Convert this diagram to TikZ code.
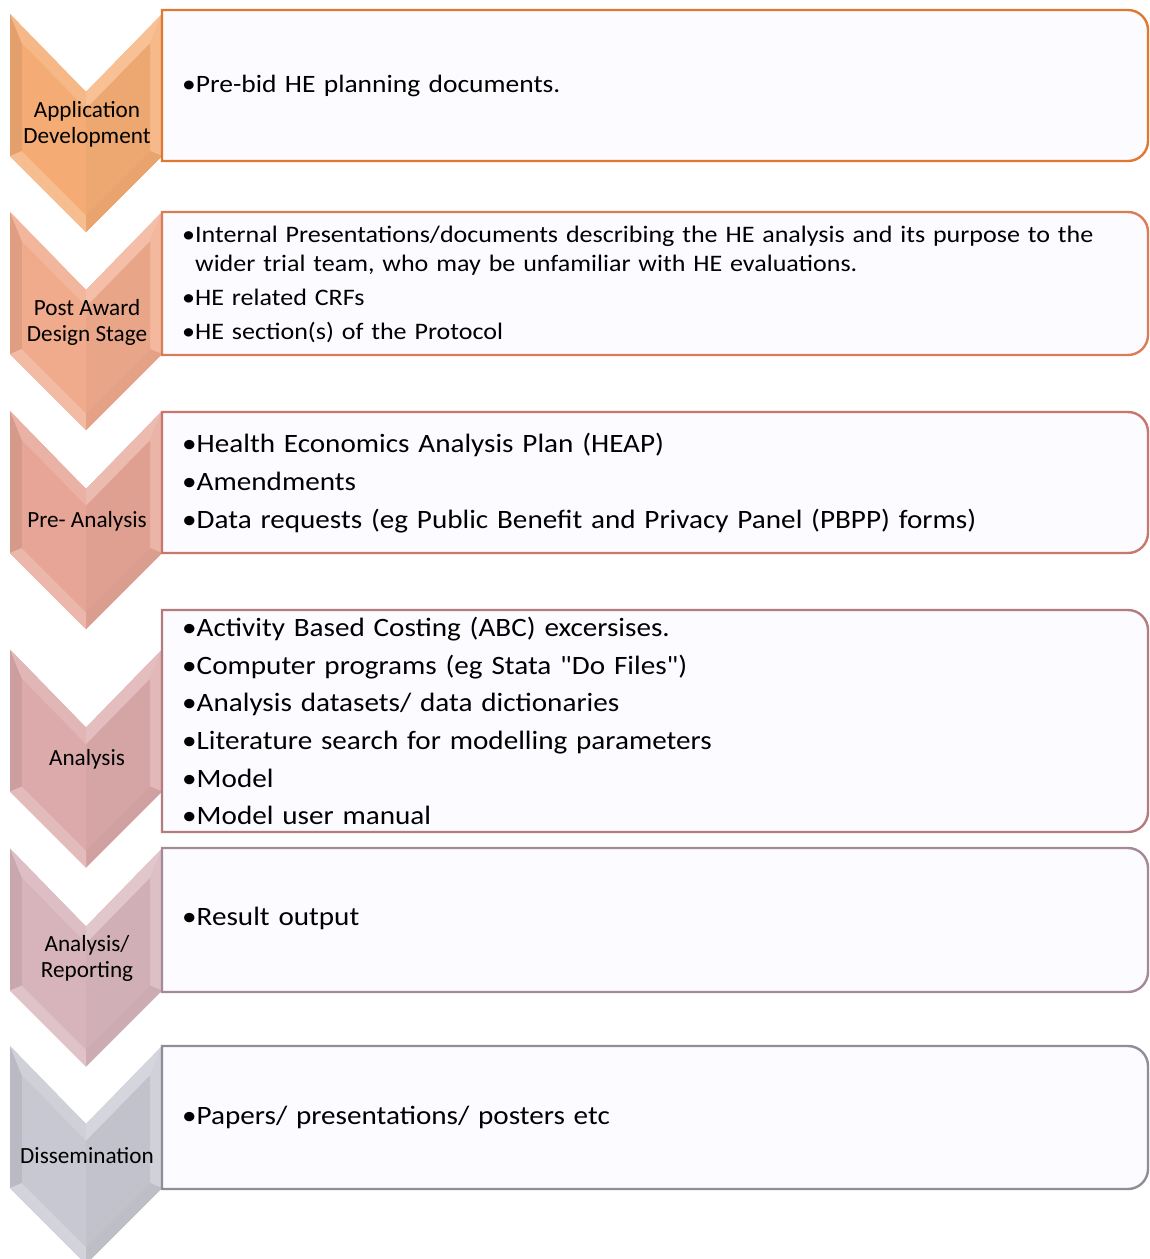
\documentclass[tikz,border=0pt]{standalone}
\usepackage{fontspec}
\setmainfont{Carlito}[FakeStretch=1.1]
\newfontfamily\labfont{Carlito}
\definecolor{cA}{HTML}{F4AC74}
\definecolor{cB}{HTML}{F0AA8C}
\definecolor{cC}{HTML}{E6A596}
\definecolor{cD}{HTML}{DCAAAA}
\definecolor{cE}{HTML}{D7B4BC}
\definecolor{cF}{HTML}{C8C8D2}
\definecolor{fA}{HTML}{E0782F}
\definecolor{fB}{HTML}{DA7C55}
\definecolor{fC}{HTML}{C8776A}
\definecolor{fD}{HTML}{B47C7C}
\definecolor{fE}{HTML}{A38A94}
\definecolor{fF}{HTML}{8E8E96}
\definecolor{boxfill}{HTML}{FCFBFF}
\tikzset{
  chevlabel/.style={align=center, inner sep=0pt, font=\labfont\fontsize{23.2}{26}\selectfont},
  boxtext/.style={align=left, anchor=west, inner sep=0pt, text width=960pt},
  frame/.style={line width=2.4pt, fill=boxfill}
}
% #1 name, #2 top y, #3 colour, #4 label
\newcommand\mychevshape[4]{%
 \colorlet{cb}{#3}%
 \begin{scope}[shift={(0,-#2)}]
  \coordinate (#1oA) at (10,0);   \coordinate (#1oN) at (86,-78);
  \coordinate (#1oB) at (162,0);  \coordinate (#1oC) at (162,-142);
  \coordinate (#1oT) at (86,-218);\coordinate (#1oD) at (10,-142);
  \coordinate (#1iA) at (22,-29.5);  \coordinate (#1iN) at (86,-95);
  \coordinate (#1iB) at (150,-29.5); \coordinate (#1iC) at (150,-137);
  \coordinate (#1iT) at (86,-201);   \coordinate (#1iD) at (22,-137);
  \fill[cb] (#1oA) -- (#1oN) -- (#1oB) -- (#1oC) -- (#1oT) -- (#1oD) -- cycle;
  \fill[cb!93!black] (#1oA) -- (#1iA) -- (#1iD) -- (#1oD) -- cycle;
  \fill[cb!86!white] (#1oA) -- (#1oN) -- (#1iN) -- (#1iA) -- cycle;
  \fill[cb!76!white] (#1oN) -- (#1oB) -- (#1iB) -- (#1iN) -- cycle;
  \fill[cb!84!white] (#1oB) -- (#1oC) -- (#1iC) -- (#1iB) -- cycle;
  \fill[cb!95!black] (#1oC) -- (#1oT) -- (#1iT) -- (#1iC) -- cycle;
  \fill[cb!80!white] (#1oD) -- (#1iD) -- (#1iT) -- (#1oT) -- cycle;
  \fill[cb] (#1iA) -- (#1iN) -- (#1iT) -- (#1iD) -- cycle;
  \fill[cb!97!black] (#1iN) -- (#1iB) -- (#1iC) -- (#1iT) -- cycle;
  \node[chevlabel] (#1) at (87,-110) {#4};
 \end{scope}}
% #1 top, #2 bottom, #3 colour
\newcommand\myboxframe[3]{%
  \draw[frame, draw=#3] (162,-#2) -- (162,-#1) -- (1128,-#1)
    arc[start angle=90, end angle=0, radius=20] -- (1148,-#2+20)
    arc[start angle=0, end angle=-90, radius=20] -- cycle;}
\begin{document}
\begin{tikzpicture}[x=1pt,y=1pt]
\useasboundingbox (0,0) rectangle (1150,-1259);
\fill[white] (0,0) rectangle (1150,-1259);
% chevrons
\mychevshape{c1}{14}{cA}{Application\\Development}
\mychevshape{c2}{212}{cB}{Post Award\\Design Stage}
\mychevshape{c3}{411}{cC}{Pre- Analysis}
\mychevshape{c4}{649.5}{cD}{Analysis}
\mychevshape{c5}{848.5}{cE}{Analysis/\\Reporting}
\mychevshape{c6}{1046}{cF}{Dissemination}
% boxes
\myboxframe{10}{161}{fA}
\node[boxtext, font=\fontsize{25}{30}\selectfont] (b1) at (182,-86) {•Pre-bid HE planning documents.};
\myboxframe{212}{355}{fB}
\node[boxtext, font=\fontsize{23.66}{29}\selectfont] (b2) at (182,-284)
 {•Internal Presentations/documents describing the HE analysis and its purpose to the\\
  \phantom{•}wider trial team, who may be unfamiliar with HE evaluations.\\[5pt]
  •HE related CRFs\\[5pt]
  •HE section(s) of the Protocol};
\myboxframe{412}{553}{fC}
\node[boxtext, font=\fontsize{26.5}{38}\selectfont] (b3) at (182,-483)
 {•Health Economics Analysis Plan (HEAP)\\
  •Amendments\\
  •Data requests (eg Public Benefit and Privacy Panel (PBPP) forms)};
\myboxframe{610}{832}{fD}
\node[boxtext, font=\fontsize{26.5}{37.6}\selectfont] (b4) at (182,-721)
 {•Activity Based Costing (ABC) excersises.\\
  •Computer programs (eg Stata {\addfontfeatures{Ligatures=TeXOff}"Do Files"})\\
  •Analysis datasets/ data dictionaries\\
  •Literature search for modelling parameters\\
  •Model\\
  •Model user manual};
\myboxframe{848}{992}{fE}
\node[boxtext, font=\fontsize{26.5}{32}\selectfont] (b5) at (182,-918) {•Result output};
\myboxframe{1046}{1189}{fF}
\node[boxtext, font=\fontsize{26.5}{32}\selectfont] (b6) at (182,-1117) {•Papers/ presentations/ posters etc};
\end{tikzpicture}
\end{document}
